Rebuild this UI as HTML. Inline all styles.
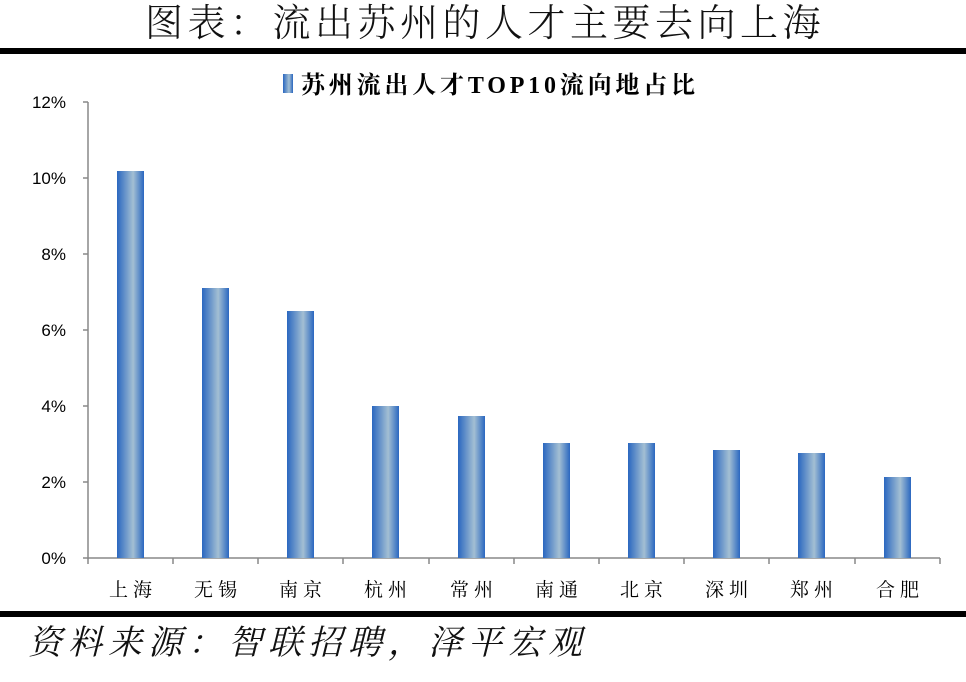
<!DOCTYPE html>
<html><head><meta charset="utf-8"><style>
body{margin:0;background:#fff;width:966px;height:682px;overflow:hidden;position:relative;font-family:"Liberation Sans","Noto Sans CJK SC",sans-serif}
.t{position:absolute;left:0;width:966px;text-align:center;top:1px;font-family:"Liberation Serif","Noto Serif CJK SC",serif;font-size:38px;font-weight:300;line-height:46px;letter-spacing:4.5px;color:#111;padding-left:4px;box-sizing:border-box}
.f{position:absolute;left:28px;top:622px;font-family:"Liberation Serif","Noto Serif CJK SC",serif;font-style:italic;font-size:34px;letter-spacing:6px;color:#111;line-height:44px}
</style></head><body>
<div class="t">图表：流出苏州的人才主要去向上海</div>
<div style="position:absolute;left:0;top:48px;width:966px;height:6px;background:#000"></div>
<div style="position:absolute;left:0;top:611px;width:966px;height:6px;background:#000"></div>
<svg width="966" height="682" style="position:absolute;left:0;top:0">
<defs><linearGradient id="g" x1="0" x2="1" y1="0" y2="0">
<stop offset="0" stop-color="#2a67c0"/><stop offset="0.6" stop-color="#a3bfd3"/><stop offset="1" stop-color="#2a67c0"/></linearGradient></defs>
<rect x="283" y="74" width="10" height="19" fill="url(#g)"/>
<text x="301" y="93" font-family="Liberation Serif,Noto Serif CJK SC,serif" font-weight="bold" font-size="24" letter-spacing="2" textLength="396" fill="#000">苏州流出人才TOP10流向地占比</text>
<g font-size="17" fill="#000" text-anchor="end">
<text x="66" y="564">0%</text><text x="66" y="488">2%</text><text x="66" y="412">4%</text><text x="66" y="336">6%</text><text x="66" y="260">8%</text><text x="66" y="184">10%</text><text x="66" y="108">12%</text></g>
<g stroke="#888" stroke-width="1.5" fill="none">
<line x1="88" y1="102" x2="88" y2="559"/><line x1="88" y1="558" x2="940" y2="558"/>
<line x1="83" y1="102" x2="88" y2="102"/><line x1="83" y1="178" x2="88" y2="178"/><line x1="83" y1="254" x2="88" y2="254"/><line x1="83" y1="330" x2="88" y2="330"/><line x1="83" y1="406" x2="88" y2="406"/><line x1="83" y1="482" x2="88" y2="482"/><line x1="83" y1="558" x2="88" y2="558"/>
<line x1="88" y1="558" x2="88" y2="564"/><line x1="173" y1="558" x2="173" y2="564"/><line x1="258" y1="558" x2="258" y2="564"/><line x1="343" y1="558" x2="343" y2="564"/><line x1="429" y1="558" x2="429" y2="564"/><line x1="514" y1="558" x2="514" y2="564"/><line x1="599" y1="558" x2="599" y2="564"/><line x1="684" y1="558" x2="684" y2="564"/><line x1="769" y1="558" x2="769" y2="564"/><line x1="855" y1="558" x2="855" y2="564"/><line x1="940" y1="558" x2="940" y2="564"/>
</g>
<g fill="url(#g)">
<rect x="117" y="171" width="27" height="387"/><rect x="202" y="288" width="27" height="270"/><rect x="287" y="311" width="27" height="247"/><rect x="372" y="406" width="27" height="152"/><rect x="458" y="416" width="27" height="142"/><rect x="543" y="443" width="27" height="115"/><rect x="628" y="443" width="27" height="115"/><rect x="713" y="450" width="27" height="108"/><rect x="798" y="453" width="27" height="105"/><rect x="884" y="477" width="27" height="81"/>
</g>
<g font-family="Liberation Serif,Noto Serif CJK SC,serif" font-size="19" fill="#000" text-anchor="middle" letter-spacing="5">
<text x="133" y="596">上海</text><text x="218" y="596">无锡</text><text x="303" y="596">南京</text><text x="388" y="596">杭州</text><text x="474" y="596">常州</text><text x="559" y="596">南通</text><text x="644" y="596">北京</text><text x="729" y="596">深圳</text><text x="814" y="596">郑州</text><text x="900" y="596">合肥</text></g>
</svg>
<div class="f">资料来源：智联招聘，泽平宏观</div>
</body></html>
